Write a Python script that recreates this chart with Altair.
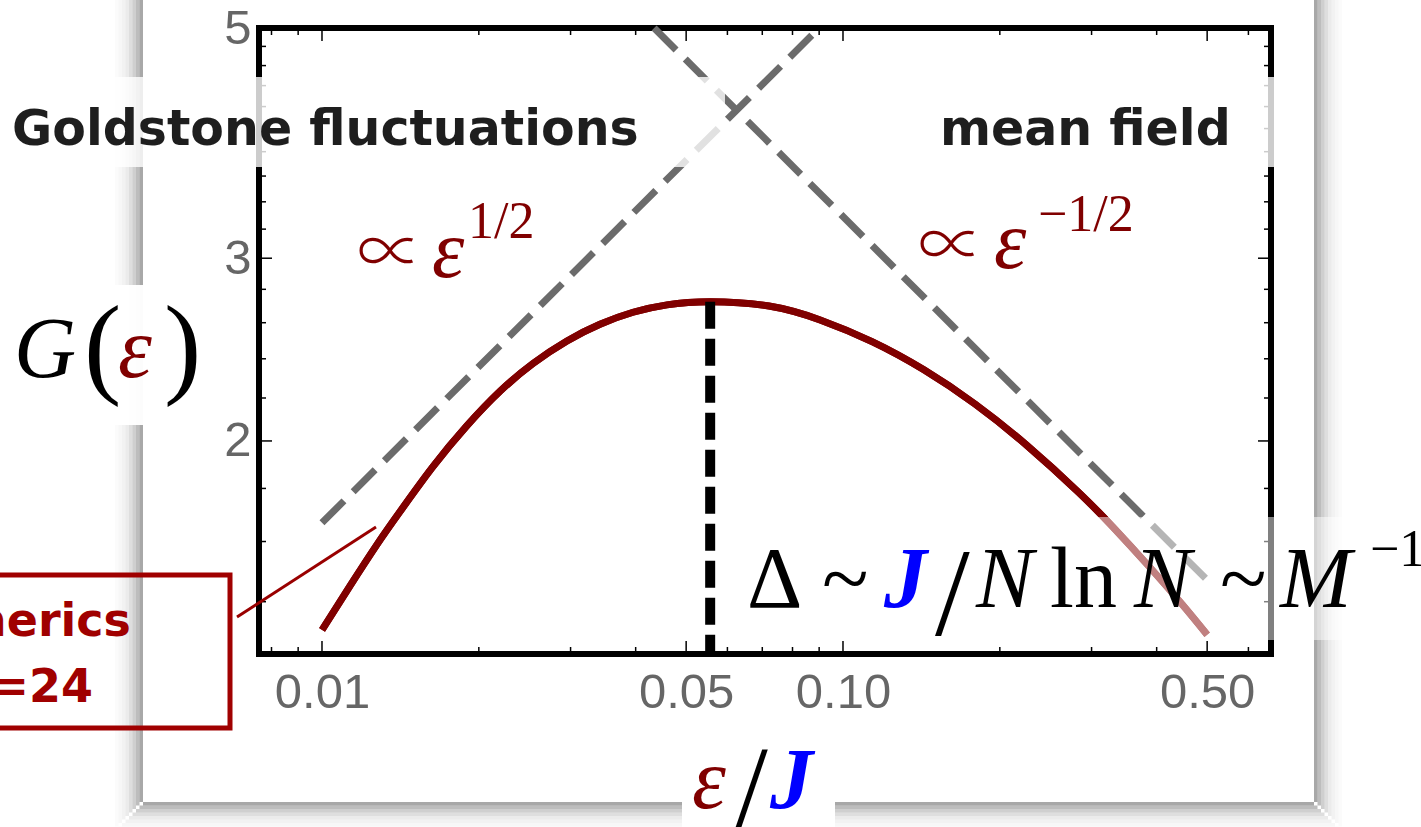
import altair as alt
import pandas as pd

# ---------------- data ----------------
# numerics, N = 24 : G(eps) against eps/J
eps = [0.0100, 0.01132, 0.01275, 0.01411, 0.01633, 0.01898, 0.02196, 0.02541,
       0.02953, 0.03417, 0.03954, 0.04594, 0.05555, 0.0721, 0.0904, 0.1137,
       0.1430, 0.1792, 0.2255, 0.2838, 0.3298, 0.3849, 0.4475, 0.5000]
G = [1.315, 1.450, 1.589, 1.709, 1.889, 2.069, 2.233, 2.375,
     2.497, 2.591, 2.661, 2.705, 2.724, 2.698, 2.616, 2.493,
     2.342, 2.171, 1.980, 1.783, 1.652, 1.518, 1.392, 1.301]

# maximum of G and the gap marker below it
peak_eps = 0.0556
peak_G = 2.724

# asymptotic power laws (end points of each guide line)
sqrt_eps = [0.01, 0.09]        # ~ eps^(1/2)
sqrt_G = [1.668, 5.0]
inv_eps = [0.0434, 0.5]        # ~ eps^(-1/2)
inv_G = [5.0, 1.469]

# ticks
x_labels = [0.01, 0.05, 0.1, 0.5]
x_minor = [0.008, 0.009, 0.02, 0.03, 0.04, 0.06, 0.07, 0.08, 0.09, 0.2, 0.3, 0.4, 0.6]
y_labels = [2, 3, 5]
y_major = [2, 3]
y_minor = [1.4, 1.6, 1.8, 2.2, 2.4, 2.6, 2.8, 3.2, 3.4, 3.6, 3.8, 4.0, 4.2, 4.4, 4.6, 4.8]

X_DOMAIN = [0.00757, 0.663]
Y_DOMAIN = [1.2466, 5.0]

# ---------------- layout ----------------
W, H = 1012, 626          # plot frame
OX, OY = 259, 28          # frame origin on the page
SERIF = "Liberation Serif"
SYMBOL = "Noto Sans CJK JP"
SANS = "Liberation Sans"
HAND = "DejaVu Sans"
DARKRED = "#800000"

xs = alt.Scale(type="log", domain=X_DOMAIN, nice=False)
ys = alt.Scale(type="log", domain=Y_DOMAIN, nice=False)

# one shared axis definition per direction, used by every layer
x_axis = alt.Axis(values=x_labels, format=".2f", title=None, ticks=False, tickSize=0,
                  domain=False, grid=False, labelFlush=False, labelOverlap=False,
                  labelPadding=14, labelFontSize=49, labelFont=SANS, labelColor="#666666")
y_axis = alt.Axis(values=y_labels, format="d", title=None, ticks=False, tickSize=0,
                  domain=False, grid=False, labelOverlap=False, labelPadding=8,
                  labelFontSize=49, labelFont=SANS, labelColor="#666666")


def X(field):
    return alt.X(field, scale=xs, axis=x_axis)


def Y(field):
    return alt.Y(field, scale=ys, axis=y_axis)


one = alt.Data(values=[{}])


def text(s, x, y, size, color="black", font=SERIF, style="normal",
         weight="normal", align="left"):
    return alt.Chart(one).mark_text(
        text=s, font=font, fontSize=size, fontStyle=style, fontWeight=weight,
        color=color, align=align, baseline="alphabetic"
    ).encode(x=alt.value(x - OX), y=alt.value(y - OY))


def box(x0, x1, y0, y1, fill="white", opacity=1.0, stroke=None, sw=0):
    kw = dict(fill=fill, fillOpacity=opacity)
    if stroke:
        kw.update(stroke=stroke, strokeWidth=sw)
    return alt.Chart(one).mark_rect(**kw).encode(
        x=alt.value(x0 - OX), x2=alt.value(x1 - OX),
        y=alt.value(y0 - OY), y2=alt.value(y1 - OY))


curve_data = pd.DataFrame({"eps": eps, "G": G})


def curve():
    return alt.Chart(curve_data).mark_line(
        color=DARKRED, strokeWidth=7, interpolate="natural", strokeCap="butt").encode(
        x=X("eps:Q"), y=Y("G:Q"))


layers = [curve()]   # first layer owns the axes

# soft drop shadow around the figure card
shade = [0.34, 0.26, 0.19, 0.13, 0.08, 0.05, 0.03, 0.015]
step = 3.5
for i, a in enumerate(shade):
    layers.append(box(143 - step * (i + 1), 143 - step * i, 0, 802 + step * i, "black", a))
    layers.append(box(1314 + step * i, 1314 + step * (i + 1), 0, 802 + step * i, "black", a))
    layers.append(box(143 - step * i, 1314 + step * i, 802 + step * i, 802 + step * (i + 1), "black", a))


# inward frame ticks
def xticks(vals, length):
    base = alt.Chart(pd.DataFrame({"eps": vals})).mark_rule(color="black", strokeWidth=1.5)
    return [base.encode(x=X("eps:Q"), y=alt.value(H), y2=alt.value(H - length)),
            base.encode(x=X("eps:Q"), y=alt.value(0), y2=alt.value(length))]


def yticks(vals, length):
    base = alt.Chart(pd.DataFrame({"G": vals})).mark_rule(color="black", strokeWidth=1.5)
    return [base.encode(y=Y("G:Q"), x=alt.value(0), x2=alt.value(length)),
            base.encode(y=Y("G:Q"), x=alt.value(W), x2=alt.value(W - length))]


layers += xticks(x_labels, 13) + xticks(x_minor, 7)
layers += yticks(y_major, 13) + yticks(y_minor, 7)

# power-law guides
guides = pd.DataFrame({
    "eps": sqrt_eps + inv_eps,
    "G": sqrt_G + inv_G,
    "law": ["sqrt", "sqrt", "inv", "inv"],
})
layers.append(
    alt.Chart(guides).mark_line(color="#6b6b6b", strokeWidth=7, strokeDash=[31, 13],
                                strokeCap="butt").encode(
        x=X("eps:Q"), y=Y("G:Q"), detail="law:N")
)

# curve drawn over the guides
layers.append(curve())

# gap marker at the maximum
layers.append(
    alt.Chart(pd.DataFrame({"eps": [peak_eps], "G": [peak_G], "G0": [Y_DOMAIN[0]]}))
    .mark_rule(color="black", strokeWidth=10, strokeDash=[27, 10], strokeCap="butt")
    .encode(x=X("eps:Q"), y=Y("G:Q"), y2="G0:Q")
)

# "numerics N=24" callout
layers.append(alt.Chart(one).mark_rule(color="#990000", strokeWidth=3).encode(
    x=alt.value(237 - OX), x2=alt.value(376 - OX),
    y=alt.value(617 - OY), y2=alt.value(527 - OY)))
layers.append(box(-20, 230, 575, 728, fill="white", opacity=0.0, stroke="#a00000", sw=5))

# label backdrops
layers.append(box(0, 725, 77, 167, opacity=0.8))
layers.append(box(905, 1290, 77, 167, opacity=0.8))
layers.append(box(0, 215, 285, 425, opacity=0.97))
layers.append(box(740, 1421, 517, 640, opacity=0.5))
layers.append(box(682, 835, 760, 827, opacity=1.0))

# regime labels
layers.append(text("Goldstone fluctuations", 12, 145, 49, "#1e1e1e", HAND, weight="bold"))
layers.append(text("mean field", 940, 145, 49, "#1e1e1e", HAND, weight="bold"))
layers.append(text("numerics", 131, 636, 46, "#a00000", HAND, weight="bold", align="right"))
layers.append(text("N=24", 93, 702, 46, "#a00000", HAND, weight="bold", align="right"))

# G(eps)
layers.append(text("G", 14, 377, 86, style="italic"))
layers.append(text("(", 84, 383, 112))
layers.append(text("ε", 118, 377, 86, DARKRED, style="italic"))
layers.append(text(")", 164, 383, 112))

# power-law annotations
layers.append(text("∝", 357, 275, 66, DARKRED, SYMBOL, weight=300))
layers.append(text("ε", 432, 277, 82, DARKRED, style="italic"))
layers.append(text("1/2", 468, 238, 52, DARKRED))
layers.append(text("∝", 918, 268, 66, DARKRED, SYMBOL, weight=300))
layers.append(text("ε", 994, 268, 82, DARKRED, style="italic"))
layers.append(text("−1/2", 1038, 231, 52, DARKRED))

# gap scaling
layers.append(text("Δ", 747, 607, 86))
layers.append(text("~", 822, 607, 86))
layers.append(text("J", 884, 607, 86, "#0000ff", style="italic", weight="bold"))
layers.append(text("/", 935, 635, 125))
layers.append(text("N", 976, 607, 86, style="italic"))
layers.append(text("ln", 1050, 607, 86))
layers.append(text("N", 1134, 607, 86, style="italic"))
layers.append(text("~", 1220, 607, 86))
layers.append(text("M", 1280, 607, 86, style="italic"))
layers.append(text("−1", 1370, 566, 52))

# x-axis title eps/J
layers.append(text("ε", 692, 808, 86, DARKRED, style="italic"))
layers.append(text("/", 735, 828, 118))
layers.append(text("J", 770, 808, 86, "#0000ff", style="italic", weight="bold"))

chart = alt.layer(*layers).properties(
    width=W, height=H,
    autosize=alt.AutoSizeParams(type="none"),
    padding={"left": OX, "top": OY, "right": 1421 - OX - W, "bottom": 827 - OY - H},
    background="white",
).configure_view(stroke="black", strokeWidth=6)

chart.save("out.html", embed_options={"renderer": "svg", "actions": False})
